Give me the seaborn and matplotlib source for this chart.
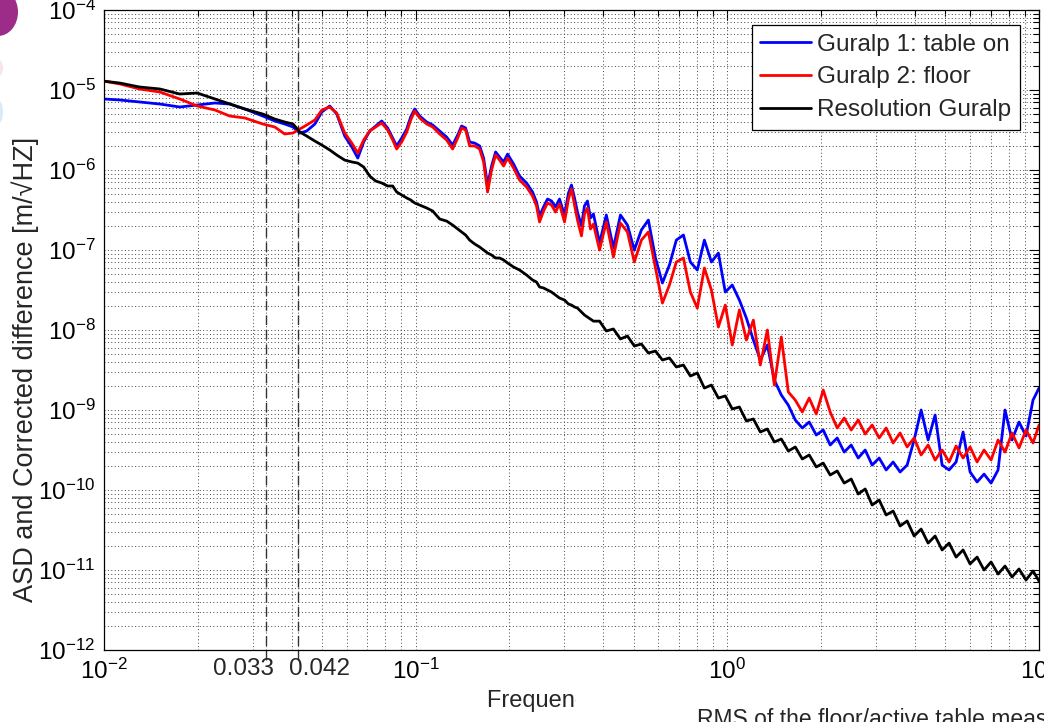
import numpy as np
import pandas as pd
import seaborn as sns
import matplotlib.pyplot as plt
from matplotlib.patches import Rectangle, Ellipse
from matplotlib.ticker import LogLocator, NullFormatter

# frequency grid [Hz], shared by the three curves
freq = [0.0100, 0.01125, 0.0130, 0.0151, 0.0175, 0.0199, 0.0227, 0.0253, 0.0283, 0.0323, 0.0353, 0.0380, 0.0404,
        0.0425, 0.0447, 0.0475, 0.0500, 0.0530, 0.0558, 0.0592, 0.0624, 0.0652, 0.0681,
        0.0712, 0.0744, 0.0778, 0.0813, 0.0844, 0.0869, 0.0902, 0.0936, 0.0964, 0.0993,
        0.1030, 0.1085, 0.1134, 0.1194, 0.1257, 0.1314, 0.1364, 0.1404, 0.1446, 0.1490,
        0.1546, 0.1604, 0.1652, 0.1701, 0.1752, 0.1805, 0.1859, 0.1915, 0.1972, 0.2061,
        0.2154, 0.2269, 0.2371, 0.2442, 0.2497, 0.2572, 0.2649, 0.2729, 0.2810, 0.2894,
        0.3003, 0.3093, 0.3162, 0.3233, 0.3305, 0.3404, 0.3480, 0.3558, 0.3638, 0.3719,
        0.389, 0.409, 0.431, 0.454, 0.478, 0.503, 0.530, 0.558, 0.588, 0.619,
        0.652, 0.686, 0.723, 0.761, 0.801, 0.844, 0.889, 0.936, 0.985, 1.037,
        1.093, 1.151, 1.212, 1.276, 1.344, 1.415, 1.490, 1.569, 1.652, 1.740,
        1.831, 1.929, 2.031, 2.138, 2.252, 2.371, 2.497, 2.630, 2.769, 2.915,
        3.070, 3.233, 3.404, 3.584, 3.775, 3.975, 4.186, 4.408, 4.642, 4.888,
        5.147, 5.420, 5.707, 6.010, 6.329, 6.664, 7.018, 7.390, 7.780, 8.193,
        8.627, 9.085, 9.568, 10.0]

# Guralp 1: table on (blue)
asd_table = [7.72e-6, 7.50e-6, 7.08e-6, 6.68e-6, 6.13e-6, 6.49e-6, 6.88e-6, 6.68e-6, 5.79e-6, 4.73e-6, 4.10e-6, 3.76e-6, 3.45e-6,
             2.90e-6, 3.07e-6, 3.76e-6, 5.31e-6, 6.31e-6, 5.01e-6, 2.66e-6, 1.94e-6, 1.41e-6, 2.24e-6,
             3.07e-6, 3.55e-6, 4.10e-6, 3.35e-6, 2.51e-6, 2.00e-6, 2.51e-6, 3.25e-6, 4.60e-6, 5.79e-6,
             4.73e-6, 3.98e-6, 3.65e-6, 3.07e-6, 2.58e-6, 2.05e-6, 2.74e-6, 3.55e-6, 3.35e-6, 2.24e-6,
             2.17e-6, 2.00e-6, 1.41e-6, 6.49e-7, 1.12e-6, 1.68e-6, 1.45e-6, 1.26e-6, 1.58e-6, 1.19e-6,
             8.41e-7, 6.88e-7, 5.31e-7, 3.98e-7, 2.66e-7, 3.45e-7, 4.34e-7, 4.10e-7, 3.45e-7, 4.34e-7,
             2.74e-7, 5.16e-7, 6.49e-7, 4.47e-7, 2.98e-7, 2.00e-7, 3.55e-7, 4.10e-7, 2.51e-7, 2.82e-7,
             1.22e-7, 2.74e-7, 1.06e-7, 2.74e-7, 2.05e-7, 1.00e-7, 1.78e-7, 2.37e-7, 7.94e-8, 3.87e-8,
             6.49e-8, 1.33e-7, 1.54e-7, 7.08e-8, 5.62e-8, 1.33e-7, 7.08e-8, 9.17e-8, 2.98e-8, 3.65e-8,
             2.37e-8, 1.41e-8, 7.50e-9, 4.22e-9, 6.49e-9, 2.37e-9, 1.54e-9, 1.15e-9, 7.50e-10, 5.96e-10,
             7.08e-10, 4.87e-10, 5.62e-10, 3.65e-10, 4.47e-10, 2.98e-10, 3.65e-10, 2.51e-10, 3.16e-10, 2.05e-10,
             2.51e-10, 1.78e-10, 2.24e-10, 1.68e-10, 2.05e-10, 4.22e-10, 1.00e-9, 4.22e-10, 8.66e-10, 2.05e-10,
             1.78e-10, 2.24e-10, 5.31e-10, 1.68e-10, 1.26e-10, 1.58e-10, 1.22e-10, 1.78e-10, 1.00e-9, 4.22e-10,
             7.08e-10, 4.73e-10, 1.33e-9, 1.88e-9]

# Guralp 2: floor (red)
asd_floor = [1.29e-5, 1.19e-5, 1.03e-5, 9.44e-6, 7.72e-6, 6.31e-6, 5.62e-6, 4.73e-6, 4.47e-6, 3.76e-6, 3.45e-6, 2.82e-6, 2.90e-6,
             3.25e-6, 3.65e-6, 4.22e-6, 5.62e-6, 6.13e-6, 5.16e-6, 2.90e-6, 2.17e-6, 1.63e-6, 2.37e-6,
             3.07e-6, 3.45e-6, 3.87e-6, 3.16e-6, 2.37e-6, 1.83e-6, 2.24e-6, 2.98e-6, 4.22e-6, 5.46e-6,
             4.47e-6, 3.76e-6, 3.45e-6, 2.82e-6, 2.37e-6, 1.83e-6, 2.51e-6, 3.35e-6, 3.16e-6, 2.00e-6,
             2.00e-6, 1.83e-6, 1.26e-6, 5.31e-7, 1.00e-6, 1.54e-6, 1.33e-6, 1.12e-6, 1.41e-6, 1.06e-6,
             7.50e-7, 6.13e-7, 4.73e-7, 3.55e-7, 2.24e-7, 3.07e-7, 3.87e-7, 3.65e-7, 2.98e-7, 3.76e-7,
             2.24e-7, 4.34e-7, 5.79e-7, 3.65e-7, 2.37e-7, 1.50e-7, 2.82e-7, 3.35e-7, 1.83e-7, 2.11e-7,
             1.00e-7, 2.24e-7, 8.18e-8, 2.17e-7, 1.68e-7, 7.08e-8, 1.33e-7, 1.68e-7, 5.96e-8, 2.17e-8,
             3.65e-8, 7.08e-8, 7.94e-8, 2.98e-8, 1.88e-8, 5.96e-8, 3.16e-8, 1.09e-8, 2.05e-8, 6.49e-9,
             1.78e-8, 7.50e-9, 1.33e-8, 3.65e-9, 1.00e-8, 2.05e-9, 8.18e-9, 1.68e-9, 1.33e-9, 9.44e-10,
             1.41e-9, 8.91e-10, 1.78e-9, 9.44e-10, 5.96e-10, 7.94e-10, 5.62e-10, 7.50e-10, 5.01e-10, 6.49e-10,
             4.47e-10, 5.96e-10, 3.87e-10, 5.16e-10, 3.45e-10, 4.47e-10, 2.74e-10, 3.65e-10, 2.37e-10, 3.16e-10,
             2.24e-10, 3.55e-10, 2.51e-10, 3.45e-10, 2.24e-10, 3.16e-10, 2.37e-10, 4.22e-10, 2.98e-10, 5.16e-10,
             3.35e-10, 5.62e-10, 3.87e-10, 6.49e-10]

# Resolution Guralp (black)
asd_resol = [1.29e-5, 1.22e-5, 1.09e-5, 1.03e-5, 8.91e-6, 9.17e-6, 7.72e-6, 6.68e-6, 5.79e-6, 5.01e-6, 4.34e-6, 3.98e-6, 3.76e-6,
             2.98e-6, 2.66e-6, 2.30e-6, 2.05e-6, 1.78e-6, 1.54e-6, 1.33e-6, 1.26e-6, 1.22e-6, 1.09e-6,
             8.41e-7, 7.29e-7, 6.88e-7, 6.31e-7, 6.31e-7, 5.31e-7, 4.87e-7, 4.47e-7, 4.22e-7, 3.87e-7,
             3.65e-7, 3.35e-7, 3.07e-7, 2.44e-7, 2.30e-7, 2.05e-7, 1.83e-7, 1.68e-7, 1.54e-7, 1.33e-7,
             1.19e-7, 1.09e-7, 1.00e-7, 9.17e-8, 8.66e-8, 7.94e-8, 7.94e-8, 7.50e-8, 6.88e-8, 6.13e-8,
             5.62e-8, 4.87e-8, 4.22e-8, 3.98e-8, 3.45e-8, 3.35e-8, 3.16e-8, 2.98e-8, 2.74e-8, 2.51e-8,
             2.37e-8, 2.11e-8, 2.05e-8, 1.94e-8, 1.88e-8, 1.68e-8, 1.54e-8, 1.45e-8, 1.37e-8, 1.29e-8,
             1.29e-8, 9.72e-9, 1.03e-8, 7.72e-9, 8.41e-9, 6.31e-9, 6.68e-9, 5.16e-9, 5.46e-9, 4.22e-9,
             4.47e-9, 3.45e-9, 3.65e-9, 2.66e-9, 2.90e-9, 1.88e-9, 2.05e-9, 1.41e-9, 1.50e-9, 1.03e-9,
             1.09e-9, 7.29e-10, 7.72e-10, 5.31e-10, 5.79e-10, 3.98e-10, 4.34e-10, 3.07e-10, 3.45e-10, 2.44e-10,
             2.74e-10, 1.94e-10, 2.17e-10, 1.54e-10, 1.73e-10, 1.22e-10, 1.37e-10, 8.91e-11, 1.03e-10, 6.49e-11,
             7.50e-11, 4.87e-11, 5.46e-11, 3.55e-11, 4.10e-11, 2.66e-11, 3.25e-11, 2.17e-11, 2.66e-11, 1.78e-11,
             2.17e-11, 1.45e-11, 1.78e-11, 1.19e-11, 1.45e-11, 1.00e-11, 1.26e-11, 8.91e-12, 1.12e-11, 8.18e-12,
             1.03e-11, 7.50e-12, 9.72e-12, 7.29e-12]

series_names = ['Guralp 1: table on', 'Guralp 2: floor', 'Resolution Guralp']
series_colors = ['#0000ff', '#ff0000', '#000000']
marker_freqs = [0.033, 0.042]
xtick_vals = [0.01, 0.033, 0.042, 0.1, 1, 10]
xtick_text = [r'$10^{-2}$', '', '', r'$10^{-1}$', r'$10^{0}$', r'$10^{1}$']

sns.set_style('white')
plt.rcParams['font.family'] = ['Liberation Sans', 'DejaVu Sans']
plt.rcParams['mathtext.fontset'] = 'custom'
plt.rcParams['mathtext.rm'] = 'Liberation Sans'
plt.rcParams['mathtext.it'] = 'Liberation Sans:italic'
plt.rcParams['mathtext.bf'] = 'Liberation Sans:bold'
plt.rcParams['axes.unicode_minus'] = False

df = pd.DataFrame({
    'freq': freq * 3,
    'asd': asd_table + asd_floor + asd_resol,
    'series': np.repeat(series_names, len(freq)),
})

fig = plt.figure(figsize=(10.44, 7.22), dpi=100)
ax = fig.add_axes([104 / 1044, 1 - 650 / 722, 935 / 1044, 640 / 722])

sns.lineplot(data=df, x='freq', y='asd', hue='series', hue_order=series_names,
             palette=series_colors, sort=False, estimator=None, lw=2.0, ax=ax)

ax.set_xscale('log')
ax.set_yscale('log')
ax.set_xlim(0.01, 10)
ax.set_ylim(1e-12, 1e-4)

# dashed markers at 0.033 and 0.042 Hz
for f in marker_freqs:
    ax.axvline(f, ymin=-0.016, ymax=1, color='#333333', ls=(0, (7, 3.5)), lw=1, clip_on=False, zorder=1)

# ticks and grid, matlab style
ax.set_xticks(xtick_vals)
ax.set_xticklabels(xtick_text)
ax.xaxis.set_minor_locator(LogLocator(base=10, subs=np.arange(2, 10), numticks=100))
ax.xaxis.set_minor_formatter(NullFormatter())
ax.yaxis.set_major_locator(LogLocator(base=10, numticks=20))
ax.yaxis.set_minor_locator(LogLocator(base=10, subs=np.arange(2, 10), numticks=100))
ax.yaxis.set_minor_formatter(NullFormatter())
ax.tick_params(which='both', direction='in', top=True, right=True, width=0.8, colors='black')
ax.tick_params(which='major', length=7, labelsize=17.5, pad=6)
ax.tick_params(which='minor', length=4)
ax.grid(True, which='both', ls=(0, (1, 2.5)), lw=0.7, color='#444444')
for sp in ax.spines.values():
    sp.set_color('black')
    sp.set_linewidth(0.9)

for f, txt, dx in [(0.033, '0.033', -22), (0.042, '0.042', 21)]:
    ax.annotate(txt, xy=(f, 0), xycoords=('data', 'axes fraction'), xytext=(dx, -8),
                textcoords='offset pixels', ha='center', va='top', fontsize=17.5)

ax.set_xlabel('')
ax.set_ylabel('ASD and Corrected difference [m/√HZ]', fontsize=19.5)
ax.yaxis.set_label_coords(-0.07, 0.438)

leg = ax.get_legend()
handles = leg.legend_handles
labels = [t.get_text() for t in leg.get_texts()]
for h in handles:
    h.set_linewidth(2.0)
ax.legend(handles, labels, loc='upper right', bbox_to_anchor=(1 - 19 / 935, 1 - 15 / 640),
          borderaxespad=0, frameon=True, fancybox=False, edgecolor='black', framealpha=1,
          fontsize=17.5, handlelength=2.1, handletextpad=0.25, labelspacing=0.45, borderpad=0.35)
ax.get_legend().get_frame().set_linewidth(0.9)

# x label, partly hidden by a slide text box
fig.text(487 / 1044, 1 - 690 / 722, 'Frequency [Hz]', ha='left', va='top', fontsize=17, zorder=3)
fig.add_artist(Rectangle((576 / 1044, 0), 1, 33 / 722, transform=fig.transFigure,
                         facecolor='white', edgecolor='none', zorder=5))
fig.text(697 / 1044, 1 - 708 / 722, 'RMS of the floor/active table measurements', ha='left', va='top',
         fontsize=16.5, zorder=6)

# bits of a logo at the top left corner
fig.add_artist(Ellipse((-2 / 1044, 1 - 12 / 722), 40 / 1044, 48 / 722, transform=fig.transFigure,
                       facecolor='#9c2c87', edgecolor='none', zorder=6))
fig.add_artist(Ellipse((-3 / 1044, 1 - 68 / 722), 12 / 1044, 18 / 722, transform=fig.transFigure,
                       facecolor='#f6e3ee', edgecolor='none', zorder=6))
fig.add_artist(Ellipse((-2 / 1044, 1 - 112 / 722), 10 / 1044, 24 / 722, transform=fig.transFigure,
                       facecolor='#dde9f3', edgecolor='none', zorder=6))

fig.savefig('out.png', dpi=100)
